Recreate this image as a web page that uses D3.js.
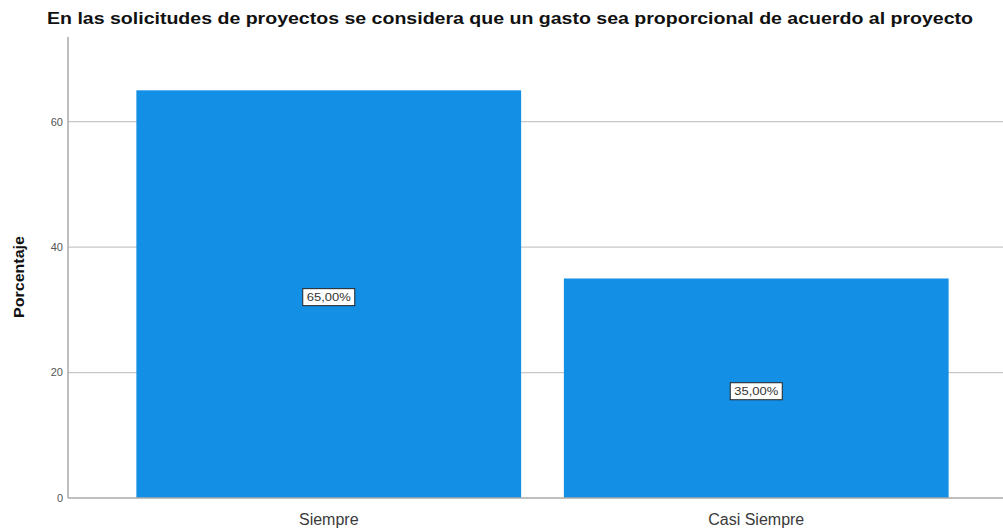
<!DOCTYPE html>
<html>
<head>
<meta charset="utf-8">
<script src="https://cdn.jsdelivr.net/npm/d3@7"></script>
<style>
  html, body { margin: 0; padding: 0; background: #fff; }
  svg { display: block; font-family: "Liberation Sans", Arial, sans-serif; }
</style>
</head>
<body>
<svg id="chart" width="1003" height="529"></svg>
<script>
// Chart data
const title = "En las solicitudes de proyectos se considera que un gasto sea proporcional de acuerdo al proyecto";
const categories = ["Siempre", "Casi Siempre"];
const percentages = [65.0, 35.0];
const yTicks = [0, 20, 40, 60];
const yLabel = "Porcentaje";

const svg = d3.select("#chart");
const W = 1003, H = 529;

// Plot frame
const plotLeft = 68, plotRight = W, plotTop = 37, plotBottom = 498;

const y = d3.scaleLinear().domain([0, 73.5]).range([plotBottom, plotTop]);
const x = d3.scaleBand().domain(categories).range([115, 970]).paddingInner(0.1).paddingOuter(0.05);

// Gridlines
svg.append("g")
  .selectAll("line")
  .data(yTicks.filter(d => d > 0))
  .join("line")
  .attr("x1", plotLeft).attr("x2", plotRight)
  .attr("y1", d => y(d)).attr("y2", d => y(d))
  .attr("stroke", "#c8c8c8").attr("stroke-width", 1.2);

// Bars
svg.append("g")
  .selectAll("rect")
  .data(categories)
  .join("rect")
  .attr("x", d => x(d))
  .attr("y", (d, i) => y(percentages[i]))
  .attr("width", x.bandwidth())
  .attr("height", (d, i) => y(0) - y(percentages[i]))
  .attr("fill", "#148fe6");

// Axis lines
svg.append("line").attr("x1", plotLeft).attr("x2", plotLeft).attr("y1", plotTop).attr("y2", plotBottom)
  .attr("stroke", "#a8a8a8").attr("stroke-width", 1.5);
svg.append("line").attr("x1", plotLeft).attr("x2", plotRight).attr("y1", plotBottom).attr("y2", plotBottom)
  .attr("stroke", "#a8a8a8").attr("stroke-width", 1.5);

// Y tick labels
svg.append("g")
  .selectAll("text")
  .data(yTicks)
  .join("text")
  .attr("x", plotLeft - 5)
  .attr("y", d => y(d))
  .attr("dy", "0.35em")
  .attr("text-anchor", "end")
  .attr("font-size", 11)
  .attr("fill", "#555")
  .text(d => d);

// X category labels
svg.append("g")
  .selectAll("text")
  .data(categories)
  .join("text")
  .attr("x", d => x(d) + x.bandwidth() / 2)
  .attr("y", 525)
  .attr("text-anchor", "middle")
  .attr("font-size", 16)
  .attr("fill", "#3a3a3a")
  .text(d => d);

// Value labels in the middle of each bar
const fmt = v => v.toFixed(2).replace(".", ",") + "%";
const labels = svg.append("g")
  .selectAll("g")
  .data(categories)
  .join("g")
  .attr("transform", (d, i) => `translate(${x(d) + x.bandwidth() / 2},${y(percentages[i] / 2) + 3})`);
labels.append("rect")
  .attr("x", -26).attr("y", -8.5).attr("width", 52).attr("height", 17)
  .attr("fill", "#fff").attr("stroke", "#222").attr("stroke-width", 1);
labels.append("text")
  .attr("text-anchor", "middle").attr("dy", "0.36em")
  .attr("font-size", 11).attr("fill", "#333")
  .attr("textLength", 44).attr("lengthAdjust", "spacingAndGlyphs")
  .text((d, i) => fmt(percentages[i]));

// Y axis title
svg.append("text")
  .attr("transform", `translate(24,277) rotate(-90)`)
  .attr("text-anchor", "middle")
  .attr("font-size", 15).attr("font-weight", "bold").attr("fill", "#111")
  .attr("textLength", 82).attr("lengthAdjust", "spacingAndGlyphs")
  .text(yLabel);

// Chart title
svg.append("text")
  .attr("x", 510).attr("y", 24)
  .attr("text-anchor", "middle")
  .attr("font-size", 16).attr("font-weight", "bold").attr("fill", "#111")
  .attr("textLength", 926).attr("lengthAdjust", "spacingAndGlyphs")
  .text(title);
</script>
</body>
</html>
